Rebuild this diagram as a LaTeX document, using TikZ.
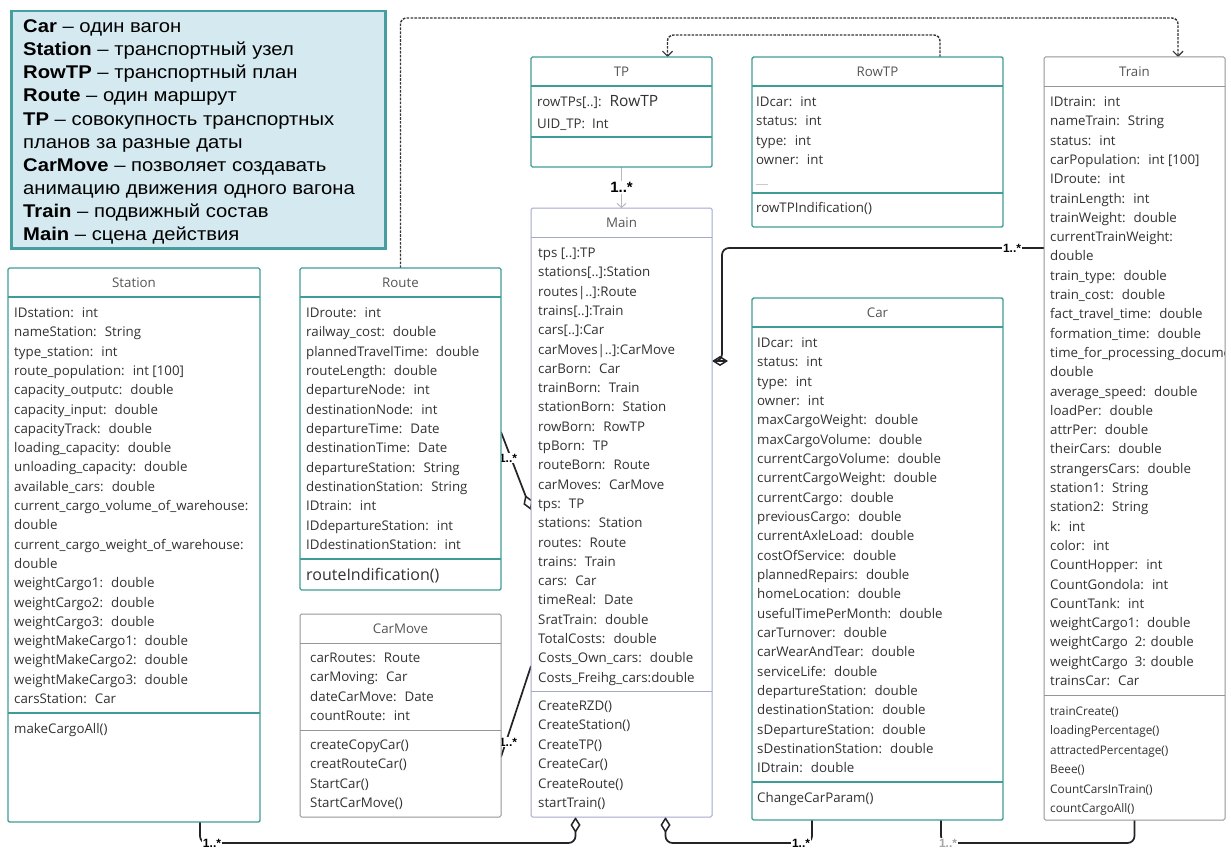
\documentclass[tikz,border=0pt]{standalone}
\usepackage{fontspec}
\newfontfamily\umlf{Open Sans}
\newfontfamily\legf{Liberation Sans}
\newfontfamily\legwf{Liberation Sans}[FakeStretch=1.1]
\usetikzlibrary{arrows.meta,calc}
\pgfdeclarelayer{back}
\pgfdeclarelayer{bg}
\pgfsetlayers{back,bg,main}
\definecolor{tealb}{RGB}{64,156,150}
\definecolor{lav}{RGB}{165,168,205}
\definecolor{grayb}{RGB}{150,150,150}
\definecolor{txt}{RGB}{50,50,50}
\definecolor{ttlc}{RGB}{85,85,85}
\definecolor{legfill}{RGB}{213,233,240}
\definecolor{legdraw}{RGB}{70,158,160}
\definecolor{linec}{RGB}{35,35,40}
\definecolor{dashc}{RGB}{55,55,55}
\tikzset{
 cls/.style={draw=#1, fill=white, anchor=north west, inner sep=0pt, outer sep=0pt, rounded corners=1.5pt},
 attr/.style={anchor=base west, inner sep=0pt, font=\umlf\fontsize{13.3}{16}\selectfont, text=txt},
 smallmeth/.style={attr, font=\umlf\fontsize{11.8}{14}\selectfont},
 ttl/.style={anchor=base, inner sep=0pt, font=\umlf\fontsize{13.3}{16}\selectfont, text=ttlc},
 lbl/.style={inner sep=1pt, font=\legf\bfseries\fontsize{12}{14}\selectfont, text=black, fill=white},
 assoc/.style={draw=linec, line width=1.7pt, rounded corners=7pt},
 dep/.style={draw=dashc, line width=1.4pt, dash pattern=on 2.6pt off 1.3pt, rounded corners=6pt, -{Straight Barb[length=5pt,width=10pt,line width=1.2pt]}},
 aggr/.style={{Diamond[open,length=16pt,width=10pt,line width=1.5pt]}-},
 legline/.style={anchor=base west, inner sep=0pt, font=\legwf\fontsize{18.4}{21}\selectfont, text=black},
}
\newcommand{\classrows}[6]{%
  \foreach \t [count=\i from 0] in {#6}{\node[#1] (#2-\i) at ({#3},{#4+4.5+\i*#5}) {\t};}}
\newcommand{\hsep}[3]{\draw[#3] ([yshift=-#2pt]#1.north west) -- ([yshift=-#2pt]#1.north east);}
\begin{document}
\begin{tikzpicture}[x=1pt,y=-1pt]
\begin{pgfonlayer}{back}
\fill[white] (0,0) rectangle (1231,851);
\end{pgfonlayer}
\useasboundingbox (0,0) rectangle (1231,851);

% ---------- Legend
\node[draw=legdraw, fill=legfill, line width=2.5pt, anchor=north west, minimum width=374pt, minimum height=237pt, inner sep=0pt] (legend) at (10,10) {};
\node[legline] (lg0) at (23,32.5) {\textbf{Car} – один вагон};
\node[legline] (lg1) at (23,55.6) {\textbf{Station} – транспортный узел};
\node[legline] (lg2) at (23,78.8) {\textbf{RowTP} – транспортный план};
\node[legline] (lg3) at (23,101.9) {\textbf{Route} – один маршрут};
\node[legline] (lg4) at (23,125.1) {\textbf{TP} – совокупность транспортных};
\node[legline] (lg5) at (23,148.2) {планов за разные даты};
\node[legline] (lg6) at (23,171.4) {\textbf{CarMove} – позволяет создавать};
\node[legline] (lg7) at (23,194.5) {анимацию движения одного вагона};
\node[legline] (lg8) at (23,217.7) {\textbf{Train} – подвижный состав};
\node[legline] (lg9) at (23,240.8) {\textbf{Main} – сцена действия};

% ---------- Station
\node[cls=tealb, line width=1.4pt, minimum width=252pt, minimum height=554pt] (station) at (8,268) {};
\hsep{station}{29}{tealb, line width=1.4pt}
\hsep{station}{445}{tealb, line width=1.4pt}
\node[ttl] (station-t) at ([yshift=-19.5pt]station.north) {Station};
\classrows{attr}{sa}{14}{313}{19.3}{IDstation:~ int, nameStation:~ String, type\_station:~ int, {route\_population:~ int [100]}, capacity\_outputc:~ double, capacity\_input:~ double, capacityTrack:~ double, loading\_capacity:~ double, unloading\_capacity:~ double, available\_cars:~ double, current\_cargo\_volume\_of\_warehouse:, double, current\_cargo\_weight\_of\_warehouse:, double, weightCargo1:~ double, weightCargo2:~ double, weightCargo3:~ double, weightMakeCargo1:~ double, weightMakeCargo2:~ double, weightMakeCargo3:~ double, carsStation:~ Car}
\node[attr] (sm-0) at (14,733.5) {makeCargoAll()};

% ---------- Route
\node[cls=tealb, line width=1.4pt, minimum width=201pt, minimum height=322pt] (route) at (300,268) {};
\hsep{route}{29}{tealb, line width=1.4pt}
\hsep{route}{291}{tealb, line width=1.4pt}
\node[ttl] (route-t) at ([yshift=-19.5pt]route.north) {Route};
\classrows{attr}{ra}{306}{313}{19.33}{IDroute:~ int, railway\_cost:~ double, plannedTravelTime:~ double, routeLength:~ double, departureNode:~ int, destinationNode:~ int, departureTime:~ Date, destinationTime:~ Date, departureStation:~ String, destinationStation:~ String, IDtrain:~ int, IDdepartureStation:~ int, IDdestinationStation:~ int}
\node[attr, font=\umlf\fontsize{16}{19}\selectfont] (rm-0) at (306,580.5) {routeIndification()};

% ---------- CarMove
\node[cls=grayb, line width=1pt, minimum width=201pt, minimum height=203pt] (carmove) at (300,614) {};
\hsep{carmove}{29}{grayb, line width=1pt}
\hsep{carmove}{116}{grayb, line width=1pt}
\node[ttl] (carmove-t) at ([yshift=-19.5pt]carmove.north) {CarMove};
\classrows{attr}{ca}{310}{658}{19.4}{carRoutes:~ Route, carMoving:~ Car, dateCarMove:~ Date, countRoute:~ int}
\classrows{attr}{cm}{310}{745}{19.4}{createCopyCar(), creatRouteCar(), StartCar(), StartCarMove()}

% ---------- TP
\node[cls=tealb, line width=1.4pt, minimum width=181pt, minimum height=110pt] (tp) at (531,57) {};
\hsep{tp}{29}{tealb, line width=1.4pt}
\hsep{tp}{80}{tealb, line width=1.4pt}
\node[ttl] (tp-t) at ([yshift=-19.5pt]tp.north) {TP};
\node[attr] (tpa-0) at (537,106.5) {rowTPs[..]:~ {\fontsize{15.5}{18}\selectfont RowTP}};
\node[attr] (tpa-1) at (537,128.5) {UID\_TP:~ Int};

% ---------- Main
\node[cls=lav, line width=1pt, minimum width=181pt, minimum height=609pt] (main) at (531,208) {};
\hsep{main}{29}{lav, line width=1pt}
\hsep{main}{483}{lav, line width=1pt}
\node[ttl] (main-t) at ([yshift=-19.5pt]main.north) {Main};
\classrows{attr}{ma}{538}{253}{19.3}{{tps [..]:TP}, {stations[..]:Station}, {routes|..]:Route}, {trains[..]:Train}, {cars[..]:Car}, {carMoves|..]:CarMove}, carBorn:~ Car, trainBorn:~ Train, stationBorn:~ Station, rowBorn:~ RowTP, tpBorn:~ TP, routeBorn:~ Route, carMoves:~ CarMove, tps:~ TP, stations:~ Station, routes:~ Route, trains:~ Train, cars:~ Car, timeReal:~ Date, SratTrain:~ double, TotalCosts:~ double, Costs\_Own\_cars:~ double, Costs\_Freihg\_cars:double}
\classrows{attr}{mm}{538}{706}{19.4}{CreateRZD(), CreateStation(), CreateTP(), CreateCar(), CreateRoute(), startTrain()}

% ---------- RowTP
\node[cls=tealb, line width=1.4pt, minimum width=251pt, minimum height=170pt] (rowtp) at (752,57) {};
\hsep{rowtp}{29}{tealb, line width=1.4pt}
\hsep{rowtp}{136}{tealb, line width=1.4pt}
\node[ttl] (rowtp-t) at ([yshift=-19.5pt]rowtp.north) {RowTP};
\classrows{attr}{wa}{756}{102}{19.3}{IDcar:~ int, status:~ int, type:~ int, owner:~ int}
\node[attr, text=gray!50] (wa-4) at (756,183.5) {\_\_};
\node[attr] (wm-0) at (756,212.5) {rowTPIndification()};

% ---------- Car
\node[cls=tealb, line width=1.4pt, minimum width=251pt, minimum height=522pt] (car) at (752,298) {};
\hsep{car}{29}{tealb, line width=1.4pt}
\hsep{car}{484}{tealb, line width=1.4pt}
\node[ttl] (car-t) at ([yshift=-19.5pt]car.north) {Car};
\classrows{attr}{ka}{757}{343}{19.33}{IDcar:~ int, status:~ int, type:~ int, owner:~ int, maxCargoWeight:~ double, maxCargoVolume:~ double, currentCargoVolume:~ double, currentCargoWeight:~ double, currentCargo:~ double, previousCargo:~ double, currentAxleLoad:~ double, costOfService:~ double, plannedRepairs:~ double, homeLocation:~ double, usefulTimePerMonth:~ double, carTurnover:~ double, carWearAndTear:~ double, serviceLife:~ double, departureStation:~ double, destinationStation:~ double, sDepartureStation:~ double, sDestinationStation:~ double, IDtrain:~ double}
\node[attr] (km-0) at (757,802.5) {ChangeCarParam()};

% ---------- Train
\node[cls=grayb, line width=1pt, minimum width=181pt, minimum height=763pt] (train) at (1044,57) {};
\hsep{train}{29}{grayb, line width=1pt}
\hsep{train}{638}{grayb, line width=1pt}
\node[ttl] (train-t) at ([yshift=-19.5pt]train.north) {Train};
\begin{scope}
\clip (train.north west) rectangle ([xshift=-0.5pt]train.south east);
\classrows{attr}{ta}{1050}{102}{19.3}{IDtrain:~ int, nameTrain:~ String, status:~ int, {carPopulation:~ int [100]}, IDroute:~ int, trainLength:~ int, trainWeight:~ double, currentTrainWeight:, double, train\_type:~ double, train\_cost:~ double, fact\_travel\_time:~ double, formation\_time:~ double, time\_for\_processing\_docume, double, average\_speed:~ double, loadPer:~ double, attrPer:~ double, theirCars:~ double, strangersCars:~ double, station1:~ String, station2:~ String, k:~ int, color:~ int, CountHopper:~ int, CountGondola:~ int, CountTank:~ int, weightCargo1:~ double, weightCargo~ 2: double, weightCargo~ 3: double, trainsCar:~ Car}
\classrows{smallmeth}{tm}{1050}{711}{19.4}{trainCreate(), loadingPercentage(), attractedPercentage(), Beee(), CountCarsInTrain(), countCargoAll()}
\end{scope}

% ---------- Connectors
\begin{pgfonlayer}{bg}
% TP -> Main
\draw[draw=gray!55, line width=1pt, -{Straight Barb[length=4pt,width=9pt,line width=1pt]}] (tp.south) -- (main.north)
  node[midway, lbl, font=\legf\bfseries\fontsize{15}{17}\selectfont] (l-tp) {1..*};
% Route -> Main (aggregation)
\draw[assoc, aggr] ([yshift=2.5pt]main.west) -- ([yshift=-3pt]route.east);
\node[lbl] (l-route) at (508,458) {1..*};
% CarMove -> Main
\draw[assoc] ([yshift=-153.5pt]main.west) -- ([yshift=-41.5pt]carmove.east);
\node[lbl] (l-carmove) at (508,742) {1..*};
% Station -> Main (aggregation at Main)
\draw[assoc, aggr] ([xshift=-46pt]main.south) -- ([xshift=-46pt,yshift=-26pt]main.south) -| ([xshift=66pt]station.south);
\node[lbl] (l-station) at (212,843) {1..*};
% Main -> Car (aggregation at Main)
\draw[assoc, aggr] ([xshift=44pt]main.south) -- ([xshift=44pt,yshift=-26pt]main.south) -| ([xshift=-65.5pt]car.south);
\node[lbl] (l-car) at (801,843) {1..*};
% Car -> Train
\draw[assoc] ([xshift=63.5pt]car.south) |- ([yshift=-23pt]train.south) -- (train.south);
\node[lbl, text=gray!70] (l-car2) at (948,843) {1..*};
% Train -> Main (aggregation at Main)
\draw[assoc, aggr] ([yshift=151.5pt]main.east) -- ([xshift=10pt,yshift=151.5pt]main.east) |- ([yshift=190.5pt]train.west);
\node[lbl] (l-train) at (1012,248) {1..*};
% dependencies
\draw[dep] (route.north) -- ([yshift=250pt]route.north) -| ([xshift=43.5pt]train.north);
\draw[dep] ([xshift=62.5pt]rowtp.north) -- ([xshift=62.5pt,yshift=22pt]rowtp.north) -| ([xshift=46pt]tp.north);
\end{pgfonlayer}
\end{tikzpicture}
\end{document}
